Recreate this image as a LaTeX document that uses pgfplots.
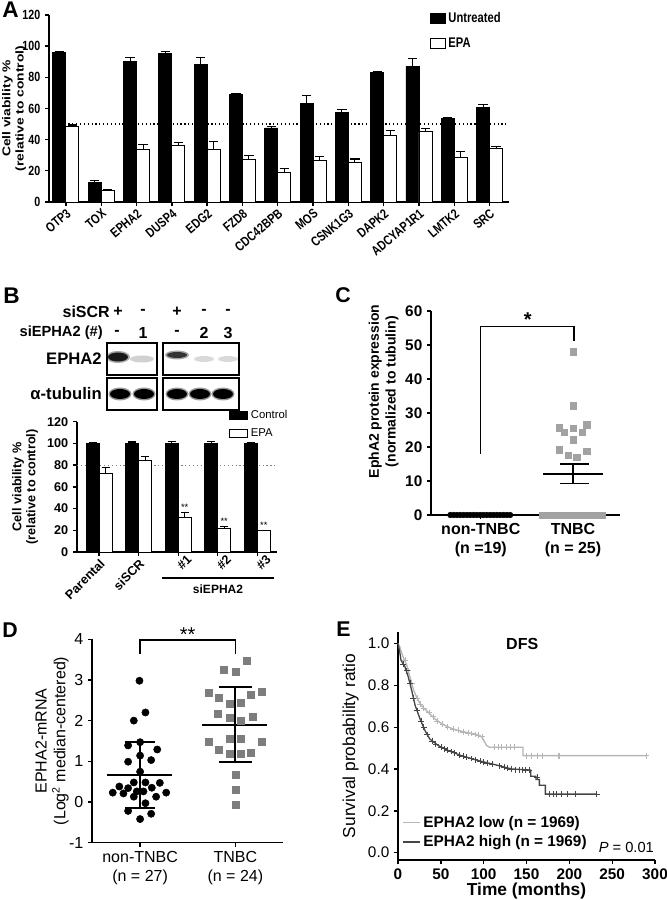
\documentclass[border=0pt]{standalone}
\usepackage{pgfplots}
\pgfplotsset{compat=1.18}
\usepackage{pgfplotstable}
\usepackage{fontspec}
\setmainfont{Liberation Sans}
\newfontfamily\narrowfont{Liberation Sans}[FakeStretch=0.8]
\newfontfamily\widefont{Liberation Sans}[FakeStretch=1.22]
\definecolor{lgray}{RGB}{182,182,182}
\definecolor{dgray}{RGB}{70,70,70}
\definecolor{sqC}{RGB}{162,162,162}
\definecolor{sqD}{RGB}{125,125,125}

\pgfplotstableread{
x unt uerr epa eerr
0 95.8 0.7 48.6 0.8
1 12.5 1.0 7.6 0.7
2 90.2 2.3 34.0 3.0
3 95.2 1.5 36.0 2.4
4 88.0 5.0 33.6 5.5
5 68.8 1.0 27.2 2.8
6 47.5 1.2 19.0 2.4
7 63.0 5.6 26.5 2.8
8 57.5 1.8 25.2 2.4
9 83.0 0.6 42.5 3.3
10 87.0 5.0 45.0 2.4
11 53.8 0.4 28.5 3.8
12 60.5 1.8 34.6 1.2
}\dataA

\pgfplotstableread{
x ctl cerr epa eerr
0 100 1.2 72.3 5.2
1 100 1.3 84.5 3.8
2 100 1.6 32.0 4.0
3 100 1.8 22.0 1.8
4 100 1.0 19.6 0.6
}\dataB

\pgfplotsset{
  panel/.style={
    scale only axis, clip=false,
    axis x line*=bottom, axis y line*=left,
    axis line style={line width=1pt},
    tick align=outside, major tick length=3pt,
    every tick/.append style={black, line width=1pt},
    /pgf/number format/assume math mode=true,
  },
}

\begin{document}
\begin{tikzpicture}
\path[use as bounding box] (0pt,0pt) rectangle (500.25pt,675pt);

%================ Panel A =================
\begin{axis}[panel, at={(36.75pt,523.5pt)}, anchor=south west, width=345pt, height=140.25pt,
  xmin=-0.48, xmax=12.55, ymin=0, ymax=120, ytick={0,20,...,120},
  xtick={0,...,12},
  xticklabels={OTP3,TOX,EPHA2,DUSP4,EDG2,FZD8,CDC42BPB,MOS,CSNK1G3,DAPK2,ADCYAP1R1,LMTK2,SRC},
  x tick label style={rotate=40, anchor=north east, inner sep=1pt, font=\narrowfont\bfseries\fontsize{10}{11}\selectfont},
  y tick label style={font=\narrowfont\bfseries\fontsize{10}{11}\selectfont},
  ylabel={Cell viability \%\\(relative to control)},
  every axis y label/.style={at={(rel axis cs:-0.076,0.5)}, rotate=90, anchor=center},
  ylabel style={align=center, font=\widefont\bfseries\fontsize{8.5}{10}\selectfont},
  ybar=0pt, bar width=9.75pt,
  legend image code/.code={\draw[#1] (0pt,-3.5pt) rectangle (11pt,3.5pt);},
  legend style={draw=none, fill=none, at={(0.828,1.03)}, anchor=north west, font=\narrowfont\bfseries\fontsize{10.5}{11}\selectfont, row sep=6pt, inner sep=0pt},
  legend cell align=left,
]
\draw[dotted, line width=0.9pt] (axis cs:-0.48,50) -- (axis cs:12.55,50);
\addplot[fill=black, draw=black, line width=0.7pt, error bars/.cd, y dir=plus, y explicit, error bar style={line width=0.8pt, black}, error mark options={rotate=90, mark size=3.5pt, line width=0.8pt, black}] table[x=x, y=unt, y error=uerr]{\dataA};
\addlegendentry{Untreated}
\addplot[fill=white, draw=black, line width=0.7pt, error bars/.cd, y dir=plus, y explicit, error bar style={line width=0.8pt, black}, error mark options={rotate=90, mark size=3.5pt, line width=0.8pt, black}] table[x=x, y=epa, y error=eerr]{\dataA};
\addlegendentry{EPA}
\end{axis}

%================ Panel B bars =================
\begin{axis}[panel, at={(57.75pt,261pt)}, anchor=south west, width=150pt, height=97.7pt,
  xmin=-0.56, xmax=4.5, ymin=0, ymax=120, ytick={0,20,...,120},
  xtick={0,1}, xticklabels={Parental,siSCR},
  x tick label style={rotate=45, anchor=north east, inner sep=1pt, font=\bfseries\fontsize{9.5}{11}\selectfont},
  extra x ticks={2,3,4}, extra x tick labels={\#1,\#2,\#3},
  extra x tick style={x tick label style={rotate=0, anchor=north, inner sep=3pt}},
  y tick label style={font=\bfseries\fontsize{9.5}{11}\selectfont},
  ylabel={Cell viability \%\\(relative to control)},
  ylabel style={align=center, font=\bfseries\fontsize{9.5}{10.5}\selectfont},
  ybar=0pt, bar width=9.75pt,
  legend image code/.code={\draw[#1] (0pt,-2.7pt) rectangle (13.5pt,2.7pt);},
  legend style={draw=none, fill=none, at={(0.76,1.11)}, anchor=north west, font=\fontsize{8.5}{10}\selectfont, row sep=2pt, inner sep=0pt},
  legend cell align=left,
]
\draw[dotted, line width=0.9pt, gray] (axis cs:-0.56,80) -- (axis cs:4.5,80);
\addplot[fill=black, draw=black, line width=0.7pt, error bars/.cd, y dir=plus, y explicit, error bar style={line width=0.8pt, black}, error mark options={rotate=90, mark size=3pt, line width=0.8pt, black}] table[x=x, y=ctl, y error=cerr]{\dataB};
\addlegendentry{Control}
\addplot[fill=white, draw=black, line width=0.7pt, error bars/.cd, y dir=plus, y explicit, error bar style={line width=0.8pt, black}, error mark options={rotate=90, mark size=3pt, line width=0.8pt, black}] table[x=x, y=epa, y error=eerr]{\dataB};
\addlegendentry{EPA}
\node[font=\fontsize{7}{7}\selectfont] at (axis cs:2.165,41.5) {**};
\node[font=\fontsize{7}{7}\selectfont] at (axis cs:3.165,28.5) {**};
\node[font=\fontsize{7}{7}\selectfont] at (axis cs:4.165,25) {**};
\end{axis}

%================ Panel C =================
\begin{axis}[panel, at={(323.25pt,288.75pt)}, anchor=south west, width=141.75pt, height=153pt,
  xmin=-0.54, xmax=1.51, ymin=0, ymax=60, ytick={0,10,...,60},
  xtick={0,1}, xticklabels={{non-TNBC\\(n =19)},{TNBC\\(n = 25)}},
  x tick label style={align=center, font=\bfseries\fontsize{12}{14}\selectfont},
  y tick label style={font=\bfseries\fontsize{11.5}{13}\selectfont},
  ylabel={EphA2 protein expression\\(normalized to tubulin)},
  every axis y label/.style={at={(rel axis cs:-0.251,0.605)}, rotate=90, anchor=center},
  ylabel style={align=center, font=\bfseries\fontsize{10.5}{12.5}\selectfont},
]
\addplot[black, line width=1pt, mark=none] coordinates {(0,18) (0,55.5) (1.01,55.5) (1.01,51.3)};
\node[font=\bfseries\fontsize{15}{15}\selectfont] at (axis cs:0.51,57.5) {*};
\addplot[only marks, mark=*, mark size=2.1pt, black] coordinates {
(-0.33,0) (-0.294,0) (-0.258,0) (-0.222,0) (-0.186,0) (-0.15,0) (-0.114,0) (-0.078,0) (-0.042,0) (-0.006,0)
(0.03,0) (0.066,0) (0.102,0) (0.138,0) (0.174,0) (0.21,0) (0.246,0) (0.282,0) (0.318,0)};
\addplot[only marks, mark=square*, mark size=2.4pt, sqC, mark options={draw=sqC, fill=sqC}] coordinates {
(0.67,0) (0.724,0) (0.778,0) (0.832,0) (0.886,0) (0.94,0) (0.994,0) (1.048,0) (1.102,0) (1.156,0) (1.21,0) (1.264,0) (1.318,0)
(1.0,48.0) (1.0,32.1) (0.85,25.7) (1.0,25.5) (1.15,26.5) (0.906,24.3) (1.1,24.3) (1.0,22.1) (0.85,19.2) (0.95,17.5) (1.043,17.0) (1.15,18.7)};
\addplot[black, line width=1.3pt, mark=none] coordinates {(0.68,12) (1.33,12)};
\addplot[black, line width=1.3pt, mark=none] coordinates {(1.0,9.3) (1.0,15)};
\addplot[black, line width=1.3pt, mark=none] coordinates {(0.855,9.3) (1.17,9.3)};
\addplot[black, line width=1.3pt, mark=none] coordinates {(0.855,15) (1.17,15)};
\end{axis}

%================ Panel D =================
\begin{axis}[panel, at={(69pt,43pt)}, anchor=south west, width=143.25pt, height=152.55pt,
  xmin=-0.505, xmax=1.5, ymin=-1, ymax=4, ytick={-1,0,1,2,3,4},
  xtick={0,1}, xticklabels={{non-TNBC\\(n = 27)},{TNBC\\(n = 24)}},
  x tick label style={align=center, font=\fontsize{12}{14}\selectfont},
  y tick label style={font=\fontsize{12}{14}\selectfont},
  ylabel={EPHA2-mRNA\\(Log\textsuperscript{2} median-centered)},
  every axis y label/.style={at={(rel axis cs:-0.209,0.5)}, rotate=90, anchor=center},
  ylabel style={align=center, font=\fontsize{12}{14}\selectfont},
]
\addplot[black, line width=1pt, mark=none] coordinates {(0,3.64) (0,3.98) (1,3.98) (1,3.64)};
\node[font=\fontsize{15}{15}\selectfont] at (axis cs:0.5,4.12) {**};
\addplot[only marks, mark=*, mark size=2.7pt, black] coordinates {
(-0.007,2.98) (0.056,2.20) (-0.066,2.0) (0,1.47) (-0.126,1.39) (0.18,1.29) (0,1.14) (-0.126,0.99) (0.116,1.03)
(0,0.745) (-0.066,0.48) (0.056,0.48) (0.207,0.47) (-0.218,0.38) (-0.126,0.34) (0.123,0.35) (-0.287,0.23)
(-0.175,0.21) (-0.035,0.26) (0.035,0.26) (0.274,0.23) (-0.066,0.13) (0.168,0.13) (0.056,-0.03) (-0.126,-0.22)
(0.116,-0.29) (0,-0.42)};
\addplot[only marks, mark=square*, mark size=2.6pt, sqD, mark options={draw=sqD, fill=sqD}] coordinates {
(1.116,3.46) (0.877,3.24) (1,3.19) (0.716,2.69) (1.277,2.70) (1.165,2.64) (0.828,2.56) (0.94,2.42) (1.053,2.43)
(0.814,2.16) (0.94,2.06) (1.053,1.99) (1.18,2.10) (0.716,1.49) (0.94,1.56) (1.053,1.56) (1.277,1.49) (0.828,1.28)
(0.94,1.19) (1.053,1.19) (1.165,1.22) (1,0.66) (1,0.29) (1,-0.07)};
\addplot[black, line width=1.6pt, mark=none] coordinates {(-0.35,0.67) (0.33,0.67)};
\addplot[black, line width=1.4pt, mark=none] coordinates {(0,-0.14) (0,1.48)};
\addplot[black, line width=1.4pt, mark=none] coordinates {(-0.16,-0.14) (0.16,-0.14)};
\addplot[black, line width=1.4pt, mark=none] coordinates {(-0.16,1.48) (0.16,1.48)};
\addplot[black, line width=1.6pt, mark=none] coordinates {(0.65,1.90) (1.33,1.90)};
\addplot[black, line width=1.4pt, mark=none] coordinates {(1,0.975) (1,2.82)};
\addplot[black, line width=1.4pt, mark=none] coordinates {(0.83,0.975) (1.17,0.975)};
\addplot[black, line width=1.4pt, mark=none] coordinates {(0.83,2.82) (1.17,2.82)};
\end{axis}

%================ Panel E =================
\begin{axis}[panel, at={(298.5pt,30pt)}, anchor=south west, width=192.75pt, height=171pt,
  xmin=0, xmax=300, ymin=-0.035, ymax=1.055, xtick={0,50,...,300}, ytick={0,0.2,0.4,0.6,0.8,1.0},
  yticklabel style={/pgf/number format/fixed, /pgf/number format/fixed zerofill, /pgf/number format/precision=1, font=\fontsize{11.5}{13}\selectfont},
  x tick label style={font=\bfseries\fontsize{11.5}{13}\selectfont},
  xlabel={Time (months)}, xlabel style={font=\bfseries\fontsize{13}{15}\selectfont, yshift=4pt},
  ylabel={Survival probability ratio}, ylabel style={font=\fontsize{13}{15}\selectfont},
  legend image code/.code={\draw[#1] (0pt,0pt) -- (13pt,0pt);},
  legend style={draw=none, fill=none, at={(0.015,0.205)}, anchor=north west, font=\bfseries\fontsize{11.5}{12.5}\selectfont, row sep=0.5pt, inner sep=0pt},
  legend cell align=left,
]
\addplot[lgray, line width=1pt, mark=none] coordinates {
(0,1.0) (2,0.985) (4.3,0.955) (7,0.925) (10,0.90) (12,0.87) (14,0.84) (16,0.81) (18,0.78) (21,0.75) (24,0.725)
(28,0.70) (33,0.68) (38,0.66) (43,0.64) (48,0.625) (55,0.608) (62,0.595) (70,0.584) (80,0.575) (88,0.568)
(95,0.56) (98,0.552) (101,0.53) (103.5,0.512) (107,0.504) (146,0.504) (146,0.464) (290,0.464)};
\addlegendentry{EPHA2 low (n = 1969)}
\addplot[only marks, mark=+, mark size=2.2pt, lgray, forget plot] coordinates {
(8,0.92) (12,0.87) (16,0.81) (22,0.74) (26,0.71) (30,0.69) (36,0.67) (41,0.65) (46,0.63) (52,0.615) (58,0.60)
(64,0.592) (70,0.585) (76,0.578) (82,0.573) (86,0.57) (90,0.565) (94,0.562) (98,0.555) (112,0.504) (117,0.504)
(121,0.504) (126,0.504) (131,0.504) (136,0.504) (150,0.464) (155,0.464) (163,0.464) (168,0.464) (187,0.464)
(188,0.464) (290,0.464)};
\addplot[dgray, line width=1pt, mark=none] coordinates {
(0,1.0) (2,0.96) (3.5,0.92) (8,0.89) (12,0.84) (16,0.776) (20,0.704) (25.7,0.64) (31.5,0.584) (37,0.544)
(47,0.512) (58.7,0.488) (74,0.464) (94,0.44) (113,0.421) (133,0.40) (155,0.395) (155,0.365) (161,0.365)
(161,0.35) (165,0.35) (165,0.322) (172,0.322) (172,0.28) (232,0.28)};
\addlegendentry{EPHA2 high (n = 1969)}
\addplot[only marks, mark=+, mark size=2.2pt, dgray, forget plot] coordinates {
(6,0.9) (10,0.87) (14,0.81) (18,0.74) (22,0.68) (27,0.63) (30,0.60) (34,0.565) (40,0.535) (44,0.52) (50,0.505)
(54,0.497) (58,0.49) (62,0.484) (66,0.478) (72,0.468) (76,0.462) (80,0.456) (85,0.45) (90,0.445) (96,0.437)
(100,0.433) (104,0.428) (110,0.424) (118,0.416) (124,0.41) (128,0.405) (132,0.40) (137,0.397) (141,0.397)
(145,0.397) (149,0.396) (153,0.395) (162,0.36) (176,0.28) (181,0.28) (185,0.28) (190,0.28) (198,0.28)
(207,0.28) (232,0.28)};
\node[font=\bfseries\fontsize{12}{14}\selectfont] at (axis cs:145,1.0) {DFS};
\node[anchor=base east, font=\fontsize{11}{13}\selectfont, inner sep=0pt] at (axis cs:299,0.0) {\itshape P\upshape\ = 0.01};
\end{axis}

%================ free text, blot, letters =================
\begin{scope}[x=0.75pt,y=0.75pt]
\node[anchor=north west, inner sep=0pt, font=\bfseries\fontsize{17}{17}\selectfont] at (2,898) {A};
\node[anchor=north west, inner sep=0pt, font=\bfseries\fontsize{17}{17}\selectfont] at (3,612) {B};
\node[anchor=north west, inner sep=0pt, font=\bfseries\fontsize{16}{16}\selectfont] at (335,613) {C};
\node[anchor=north west, inner sep=0pt, font=\bfseries\fontsize{16}{16}\selectfont] at (2,277) {D};
\node[anchor=north west, inner sep=0pt, font=\bfseries\fontsize{16}{16}\selectfont] at (336,278) {E};

% blot header
\begin{scope}[every node/.style={font=\bfseries\fontsize{12}{14}\selectfont, inner sep=0pt}]
\node[anchor=east] at (110,588) {siSCR};
\node at (118,588) {+}; \node at (143,588) {-}; \node at (177,588) {+}; \node at (204,588) {-}; \node at (228,588) {-};
\node[anchor=east, font=\bfseries\fontsize{11}{13}\selectfont] at (103,567) {siEPHA2 (\#)};
\node at (117,567) {-}; \node at (143,567) {1}; \node at (177,567) {-}; \node at (204,567) {2}; \node at (228,567) {3};
\end{scope}
\node[anchor=east, inner sep=0pt, font=\bfseries\fontsize{12.5}{14}\selectfont] at (102,541) {EPHA2};
\node[anchor=east, inner sep=0pt, font=\bfseries\fontsize{12.5}{14}\selectfont] at (102,506) {α-tubulin};
% bands EPHA2
\fill[black!35] (118,543) ellipse (12 and 6);
\fill[black!90] (118,543) ellipse (10 and 4.5);
\fill[black!18] (142,541) ellipse (12 and 3.5);
\fill[black!35] (177,545) ellipse (12 and 4.5);
\fill[black!80] (177,545) ellipse (10 and 3);
\fill[black!15] (204,541) ellipse (10 and 3);
\fill[black!15] (228,541) ellipse (10 and 3);
% bands tubulin
\foreach \lx in {120,144,177,200,223} {
  \fill[black!40] (\lx,506) ellipse (11.5 and 6.5);
  \fill[black] (\lx,506) ellipse (10 and 5);
}
\draw[line width=1.3pt] (107,525) rectangle (157,557);
\draw[line width=1.3pt] (163,525) rectangle (239,557);
\draw[line width=1.3pt] (107,490) rectangle (157,522);
\draw[line width=1.3pt] (163,490) rectangle (239,522);
% siEPHA2 group line
\draw[line width=1pt] (162,322) -- (274,322);
\node[font=\bfseries\fontsize{9}{11}\selectfont] at (218,311) {siEPHA2};
\end{scope}
\end{tikzpicture}
\end{document}
